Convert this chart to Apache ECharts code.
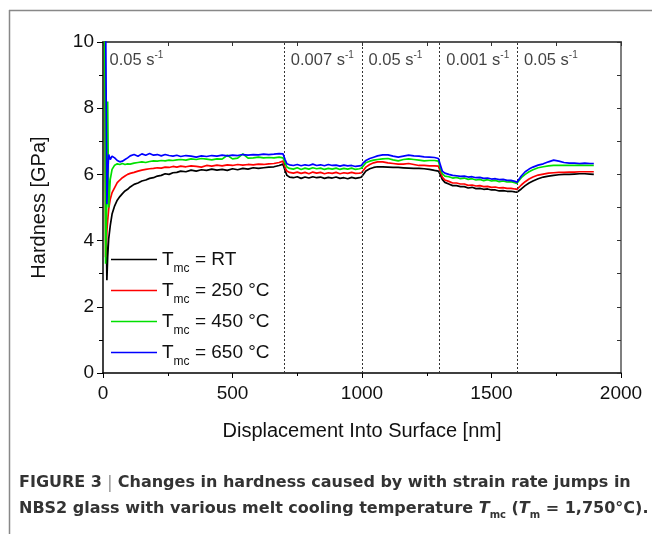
<!DOCTYPE html>
<html>
<head>
<meta charset="utf-8">
<script src="https://cdn.jsdelivr.net/npm/echarts@6/dist/echarts.min.js"></script>
<style>
html,body{margin:0;padding:0;background:#fff;}
#chart{width:652px;height:534px;}
</style>
</head>
<body>
<div id="chart"></div>
<script>
// Displacement into surface [nm]
const depth = [
  5,10,15,18,22,28,35,45,55,65,75,85,95,105,120,135,150,165,180,195,210,225,240,255,270,285,300,
  320,340,360,380,400,420,440,460,480,500,520,540,560,580,600,620,640,660,680,695,
  703,710,720,735,750,765,780,795,810,825,840,855,870,885,900,915,930,945,960,975,990,998,
  1005,1015,1030,1045,1060,1080,1100,1120,1140,1160,1180,1200,1220,1240,1260,1280,1295,
  1302,1310,1320,1335,1350,1365,1380,1395,1410,1425,1440,1455,1470,1485,1500,1515,1530,1545,1560,1575,1590,1598,
  1605,1615,1630,1645,1660,1680,1700,1720,1740,1760,1780,1800,1820,1840,1860,1880,1895
];
// Hardness [GPa], T_mc = RT
const hardRT = [
  14,6.0,2.8,3.5,4.05,4.45,4.8,5.05,5.22,5.33,5.42,5.5,5.55,5.62,5.7,5.74,5.8,5.83,5.88,5.9,5.95,5.97,6.02,6.0,6.05,6.06,6.1,
  6.08,6.13,6.1,6.14,6.12,6.16,6.13,6.15,6.12,6.17,6.14,6.18,6.16,6.2,6.18,6.2,6.22,6.23,6.27,6.31,
  6.12,5.97,5.92,5.9,5.93,5.88,5.92,5.89,5.93,5.9,5.92,5.88,5.91,5.89,5.92,5.88,5.9,5.87,5.91,5.88,5.9,5.92,
  5.98,6.1,6.17,6.21,6.23,6.23,6.22,6.21,6.21,6.2,6.19,6.18,6.18,6.17,6.15,6.12,6.1,
  6.0,5.85,5.76,5.71,5.66,5.66,5.63,5.63,5.59,5.61,5.57,5.58,5.55,5.56,5.53,5.53,5.5,5.51,5.49,5.49,5.47,5.46,
  5.48,5.56,5.66,5.74,5.8,5.87,5.92,5.95,5.97,5.99,6.0,6.0,6.01,6.02,6.02,6.01,6.0
];
// T_mc = 250 °C
const hard250 = [
  14,3.5,4.3,4.6,4.95,5.25,5.45,5.6,5.75,5.83,5.9,5.95,6.0,6.03,6.06,6.1,6.13,6.15,6.17,6.18,6.2,6.19,6.22,6.21,6.24,6.22,6.25,
  6.23,6.26,6.24,6.22,6.27,6.25,6.28,6.26,6.29,6.27,6.3,6.28,6.3,6.29,6.31,6.3,6.32,6.33,6.36,6.4,
  6.2,6.1,6.06,6.04,6.07,6.03,6.06,6.02,6.07,6.04,6.06,6.02,6.05,6.03,6.06,6.02,6.05,6.03,6.06,6.03,6.04,6.05,
  6.12,6.22,6.3,6.35,6.38,6.38,6.35,6.33,6.31,6.31,6.33,6.3,6.27,6.27,6.26,6.26,6.25,
  6.1,5.92,5.83,5.79,5.74,5.74,5.71,5.71,5.67,5.68,5.65,5.66,5.63,5.64,5.61,5.62,5.59,5.6,5.58,5.58,5.56,5.55,
  5.58,5.68,5.78,5.86,5.92,5.98,6.01,6.04,6.05,6.06,6.06,6.07,6.07,6.08,6.08,6.08,6.08
];
// T_mc = 450 °C
const hard450 = [
  14,3.3,5.4,8.2,5.0,5.85,6.15,6.28,6.32,6.3,6.33,6.3,6.32,6.31,6.34,6.36,6.38,6.36,6.39,6.41,6.4,6.42,6.41,6.43,6.42,6.44,6.45,
  6.43,6.47,6.45,6.48,6.46,6.44,6.47,6.46,6.58,6.47,6.49,6.62,6.49,6.5,6.52,6.5,6.51,6.5,6.52,6.5,
  6.35,6.22,6.18,6.16,6.2,6.15,6.19,6.16,6.2,6.17,6.19,6.15,6.18,6.16,6.19,6.15,6.18,6.16,6.19,6.15,6.17,6.19,
  6.25,6.35,6.4,6.43,6.45,6.47,6.48,6.44,6.41,6.45,6.47,6.45,6.43,6.41,6.42,6.42,6.4,
  6.2,6.02,5.95,5.93,5.89,5.91,5.87,5.89,5.85,5.87,5.83,5.85,5.81,5.84,5.8,5.82,5.78,5.8,5.77,5.78,5.75,5.73,
  5.76,5.9,6.0,6.08,6.14,6.2,6.23,6.26,6.27,6.27,6.27,6.27,6.27,6.28,6.27,6.27,6.27
];
// T_mc = 650 °C
const hard650 = [
  14,11,5.1,6.0,6.6,6.45,6.55,6.5,6.42,6.38,6.4,6.45,6.5,6.56,6.6,6.55,6.62,6.58,6.63,6.58,6.6,6.56,6.6,6.57,6.55,6.58,6.54,
  6.57,6.55,6.52,6.56,6.54,6.57,6.55,6.58,6.56,6.58,6.57,6.6,6.58,6.6,6.59,6.61,6.6,6.61,6.63,6.62,
  6.45,6.32,6.29,6.27,6.3,6.26,6.29,6.27,6.31,6.27,6.29,6.26,6.3,6.27,6.28,6.25,6.28,6.26,6.27,6.24,6.26,6.27,
  6.35,6.42,6.48,6.52,6.56,6.59,6.59,6.55,6.52,6.55,6.58,6.56,6.55,6.53,6.52,6.51,6.48,
  6.3,6.1,6.04,6.0,5.97,5.96,5.94,5.95,5.92,5.93,5.9,5.91,5.88,5.89,5.86,5.87,5.84,5.85,5.82,5.82,5.79,5.76,
  5.8,5.95,6.08,6.16,6.22,6.28,6.32,6.38,6.43,6.4,6.36,6.34,6.34,6.33,6.34,6.33,6.33
];
const seriesNames = ['RT', '250 °C', '450 °C', '650 °C'];
const seriesColors = ['#000000', '#ff0000', '#00e000', '#0000ff'];
const rateBounds = [700, 1000, 1300, 1600];
const rateLabelX = [0, 700, 1000, 1300, 1600];
const rateLabelText = ['0.05', '0.007', '0.05', '0.001', '0.05'];
const rateLabelY = 9.45;

const FONT = 'Liberation Sans, Arial, sans-serif';
const CAPFONT = 'DejaVu Sans, sans-serif';
const chart = echarts.init(document.getElementById('chart'), null, {renderer: 'canvas'});

const allHard = [hardRT, hard250, hard450, hard650];
const lineSeries = allHard.map((arr, k) => ({
  name: seriesNames[k],
  type: 'line',
  data: depth.map((d, i) => [d, arr[i]]),
  symbol: 'none',
  showSymbol: false,
  clip: true,
  lineStyle: {color: seriesColors[k], width: 1.7},
  itemStyle: {color: seriesColors[k]},
  z: 3 + k,
  silent: true
}));
lineSeries[0].markLine = {
  silent: true,
  symbol: 'none',
  label: {show: false},
  lineStyle: {type: [2, 2], color: '#333', width: 1},
  data: rateBounds.map(x => ({xAxis: x}))
};

const option = {
  animation: false,
  backgroundColor: '#fff',
  textStyle: {fontFamily: FONT},
  grid: {left: 103, right: 31, top: 42, bottom: 161},
  legend: {
    data: seriesNames,
    orient: 'vertical',
    left: 111,
    top: 244,
    padding: 0,
    itemGap: 0,
    itemWidth: 46,
    itemHeight: 14,
    icon: 'path://M0,0 L46,0 L46,1.6 L0,1.6 Z',
    formatter: n => '{t|T}{s|mc}{t| = ' + n + '}',
    textStyle: {
      color: '#111',
      fontFamily: FONT,
      rich: {
        t: {fontSize: 19, lineHeight: 31, fontFamily: FONT, color: '#111'},
        s: {fontSize: 12, lineHeight: 12, padding: [19, 0, 0, 0], fontFamily: FONT, color: '#111'}
      }
    }
  },
  xAxis: [
    {
      type: 'value', min: 0, max: 2000, interval: 500, position: 'bottom',
      name: 'Displacement Into Surface [nm]', nameLocation: 'middle', nameGap: 48,
      nameTextStyle: {fontSize: 20, color: '#111', fontFamily: FONT},
      axisLine: {show: true, onZero: false, lineStyle: {color: '#000', width: 1.5}},
      axisTick: {show: true, inside: false, length: 5, lineStyle: {color: '#000', width: 1}},
      minorTick: {show: true, splitNumber: 2, length: 3, lineStyle: {color: '#000', width: 1}},
      axisLabel: {fontSize: 19, color: '#111', margin: 11, fontFamily: FONT, formatter: v => String(v)},
      splitLine: {show: false}
    },
    {
      type: 'value', min: 0, max: 2000, interval: 250, position: 'top',
      axisLine: {show: true, onZero: false, lineStyle: {color: '#555', width: 2.2}},
      axisTick: {show: true, inside: true, length: 4, lineStyle: {color: '#333', width: 1}},
      axisLabel: {show: false},
      splitLine: {show: false}
    }
  ],
  yAxis: [
    {
      type: 'value', min: 0, max: 10, interval: 2, position: 'left',
      name: 'Hardness [GPa]', nameLocation: 'middle', nameGap: 54, nameRotate: 90,
      nameTextStyle: {fontSize: 20, color: '#111', fontFamily: FONT},
      axisLine: {show: true, onZero: false, lineStyle: {color: '#000', width: 1.5}},
      axisTick: {show: true, inside: false, length: 6, lineStyle: {color: '#000', width: 1}},
      minorTick: {show: true, splitNumber: 2, length: 4, lineStyle: {color: '#000', width: 1}},
      axisLabel: {fontSize: 19, color: '#111', margin: 9, fontFamily: FONT, formatter: v => String(v)},
      splitLine: {show: false}
    },
    {
      type: 'value', min: 0, max: 10, interval: 1, position: 'right',
      axisLine: {show: true, onZero: false, lineStyle: {color: '#555', width: 1.5}},
      axisTick: {show: true, inside: true, length: 4, lineStyle: {color: '#333', width: 1}},
      axisLabel: {show: false},
      splitLine: {show: false}
    }
  ],
  series: lineSeries.concat([{
    name: 'rates',
    type: 'scatter',
    data: rateLabelX.map((x, i) => [x, rateLabelY, rateLabelText[i]]),
    symbolSize: 1,
    itemStyle: {color: 'rgba(0,0,0,0)'},
    silent: true,
    z: 10,
    label: {
      show: true,
      position: 'right',
      distance: 6,
      formatter: p => '{n|' + p.value[2] + ' s}{sup|-1}',
      rich: {
        n: {fontSize: 16.5, lineHeight: 20, color: '#111', fontFamily: FONT},
        sup: {fontSize: 10, lineHeight: 10, padding: [0, 0, 10, 0], color: '#111', fontFamily: FONT}
      }
    }
  }]),
  graphic: [
    {type: 'line', shape: {x1: 9, y1: 10.5, x2: 652, y2: 10.5}, style: {stroke: '#888', lineWidth: 1.5}, silent: true},
    {type: 'line', shape: {x1: 9.5, y1: 10, x2: 9.5, y2: 534}, style: {stroke: '#888', lineWidth: 1.5}, silent: true},
    {
      type: 'text', left: 19, top: 474, silent: true,
      style: {
        text: '{b|FIGURE 3 }{bar||}{b| Changes in hardness caused by with strain rate jumps in}',
        rich: {
          b: {fontSize: 16, fontWeight: 'bold', fill: '#333', fontFamily: CAPFONT, lineHeight: 22},
          bar: {fontSize: 18, fontWeight: 'normal', fill: '#999', fontFamily: FONT, lineHeight: 22}
        }
      }
    },
    {
      type: 'text', left: 19, top: 498, silent: true,
      style: {
        text: '{b|NBS2 glass with various melt cooling temperature }{bi|T}{bs|mc}{b| (}{bi|T}{bs|m}{b| = 1,750°C).}',
        rich: {
          b: {fontSize: 16, fontWeight: 'bold', fill: '#333', fontFamily: CAPFONT, lineHeight: 22},
          bi: {fontSize: 16, fontWeight: 'bold', fontStyle: 'italic', fill: '#333', fontFamily: CAPFONT, lineHeight: 22},
          bs: {fontSize: 10, fontWeight: 'bold', fill: '#333', fontFamily: CAPFONT, lineHeight: 10, padding: [12, 0, 0, 0]}
        }
      }
    }
  ]
};
chart.setOption(option);
</script>
</body>
</html>
